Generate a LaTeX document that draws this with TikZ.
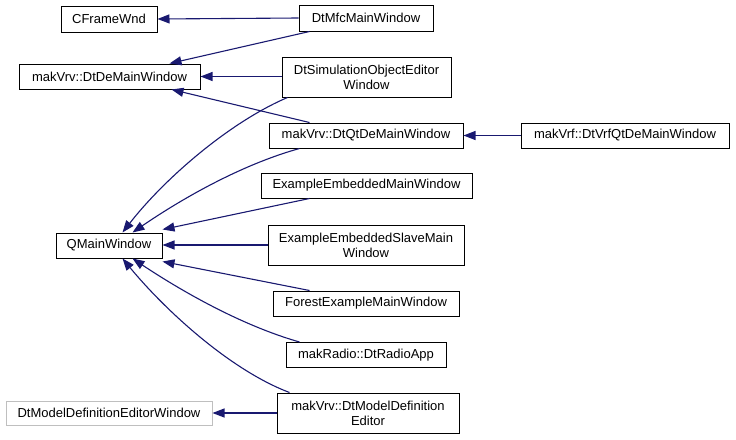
\documentclass[tikz,border=0pt]{standalone}
\usepackage{fontspec}
\setmainfont{Liberation Sans}
\usetikzlibrary{arrows.meta}
\definecolor{edgeblue}{HTML}{191970}
\definecolor{greyline}{HTML}{BFBFBF}
\tikzset{
  box/.style={draw=black, line width=1pt, fill=white, inner sep=0pt, align=center,
    font=\fontsize{13}{15}\selectfont},
  greybox/.style={box, draw=greyline},
  edge/.style={draw=edgeblue, line width=1.1pt, -{Triangle[length=12pt,width=9pt]}},
}
\begin{document}
\begin{tikzpicture}[x=1pt,y=-1pt]
\useasboundingbox (0,0) rectangle (736,439);
% nodes
\node[box, minimum width=96pt, minimum height=26pt] (cfw) at (109,19) {CFrameWnd};
\node[box, minimum width=181pt, minimum height=25pt] (dtde) at (109.5,76.5) {makVrv::DtDeMainWindow};
\node[box, minimum width=134pt, minimum height=26pt] (mfc) at (366,18) {DtMfcMainWindow};
\node[box, minimum width=169pt, minimum height=40pt] (sim) at (366.5,77) {DtSimulationObjectEditor\\Window};
\node[box, minimum width=194pt, minimum height=25pt] (qtde) at (366,135.5) {makVrv::DtQtDeMainWindow};
\node[box, minimum width=208pt, minimum height=25pt] (vrf) at (625,135.5) {makVrf::DtVrfQtDeMainWindow};
\node[box, minimum width=106pt, minimum height=25pt] (qmw) at (109,245.5) {QMainWindow};
\node[box, minimum width=211pt, minimum height=25pt] (eemw) at (366.5,185.5) {ExampleEmbeddedMainWindow};
\node[box, minimum width=196pt, minimum height=40pt] (slave) at (366,245) {ExampleEmbeddedSlaveMain\\Window};
\node[box, minimum width=186pt, minimum height=25pt] (forest) at (366,303.5) {ForestExampleMainWindow};
\node[box, minimum width=160pt, minimum height=25pt] (radio) at (366,355) {makRadio::DtRadioApp};
\node[box, minimum width=182pt, minimum height=40pt] (mde) at (368,413) {makVrv::DtModelDefinition\\Editor};
\node[greybox, minimum width=206pt, minimum height=24pt] (mdew) at (109,413) {DtModelDefinitionEditorWindow};
% edges
\draw[edge] (mfc.west) -- (cfw.east);
\draw[edge] ([xshift=11pt]mfc.south west) -- ([xshift=-31pt]dtde.north east);
\draw[edge] (sim.west |- dtde.east) -- (dtde.east);
\draw[edge] ([xshift=41pt]qtde.north west) -- ([xshift=-29pt]dtde.south east);
\draw[edge] (vrf.west) -- (qtde.east);
\draw[edge] ([xshift=6pt]sim.south west) .. controls (230,122) and (165,178) .. ([xshift=67pt]qmw.north west);
\draw[edge] ([xshift=31pt]qtde.south west) .. controls (240,165) and (180,200) .. ([xshift=77pt]qmw.north west);
\draw[edge] ([xshift=49pt]eemw.south west) -- ([yshift=3pt]qmw.north east);
\draw[edge] (slave.west) -- (slave.west -| qmw.east);
\draw[edge] ([xshift=37pt]forest.north west) -- ([yshift=-3pt]qmw.south east);
\draw[edge] ([xshift=14pt]radio.north west) .. controls (240,325) and (180,290) .. ([xshift=77pt]qmw.south west);
\draw[edge] ([xshift=13pt]mde.north west) .. controls (230,370) and (165,310) .. ([xshift=67pt]qmw.south west);
\draw[edge] (mde.west) -- (mdew.east);
\end{tikzpicture}
\end{document}
